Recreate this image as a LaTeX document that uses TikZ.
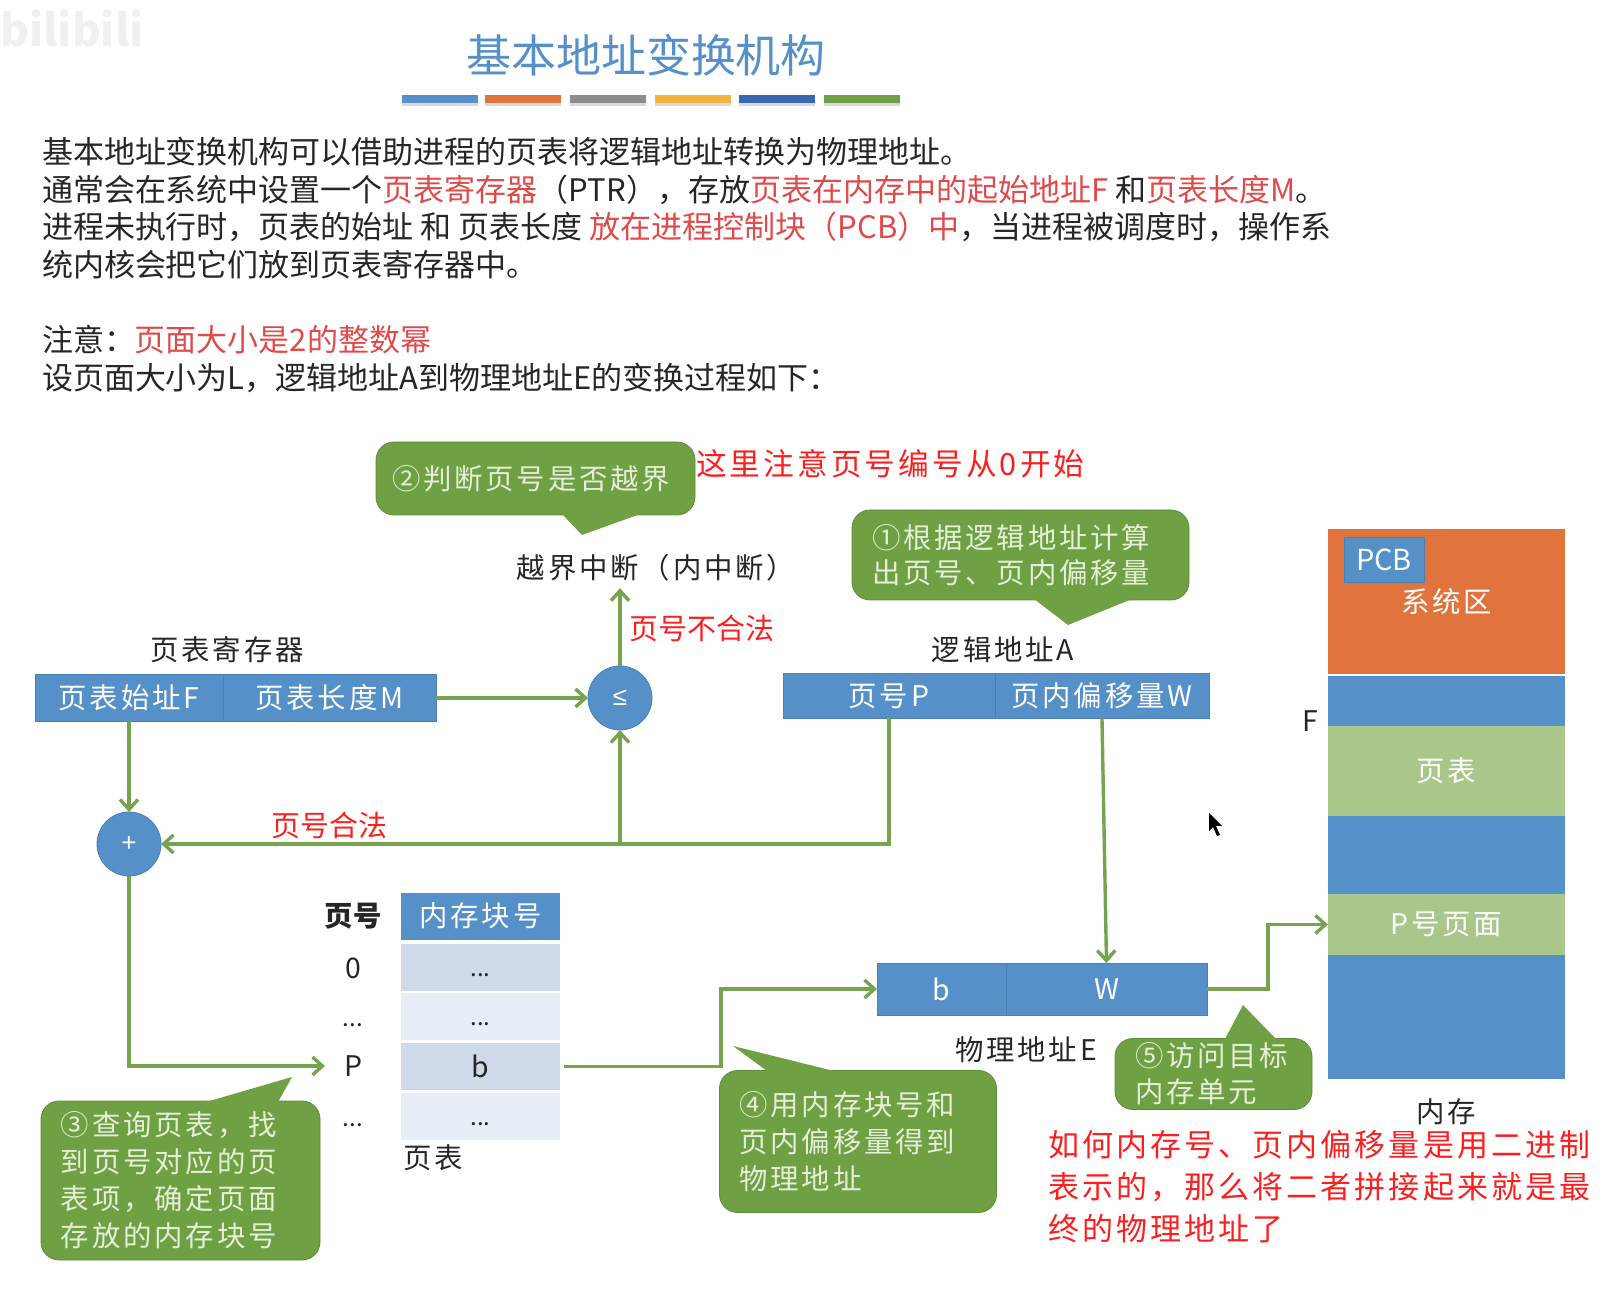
\documentclass[tikz,border=0pt]{standalone}
\usepackage{fontspec}
\usepackage{xcolor}
\usepackage{tikz}
\usetikzlibrary{positioning, arrows.meta, shadows}

\setmainfont{Noto Sans CJK SC}
\newfontfamily\labelfont[LetterSpace=10]{Noto Sans CJK SC}
\newfontfamily\notefont[LetterSpace=10]{Noto Sans CJK SC}
\newfontfamily\opfont{Liberation Sans}

\definecolor{cellblue}{HTML}{5590C8}
\definecolor{edgeblue}{HTML}{4A80B4}
\definecolor{flowgreen}{HTML}{76A34E}
\definecolor{tipgreen}{HTML}{70A044}
\definecolor{tipedge}{HTML}{5F8C3A}
\definecolor{tiptext}{HTML}{E4EFD8}
\definecolor{softgreen}{HTML}{A9C78A}
\definecolor{sysorange}{HTML}{E0743C}
\definecolor{textred}{HTML}{DF4A4A}
\definecolor{notered}{HTML}{FA2020}
\definecolor{rowdark}{HTML}{CFDBEB}
\definecolor{rowlight}{HTML}{E8EEF6}
\definecolor{baryellow}{HTML}{F2B33D}
\definecolor{bardeep}{HTML}{3A68B0}

\begin{document}
\begin{tikzpicture}[
    x=0.5pt, y=-0.5pt,
    every node/.style={outer sep=0pt},
    plain/.style={font=\labelfont\fontsize{14.2}{18.5}\selectfont, text=black!85},
    rednote/.style={font=\notefont\fontsize{15.5}{21.2}\selectfont, text=notered, align=left},
    shortnote/.style={font=\fontsize{14.5}{18}\selectfont, text=notered},
    cell/.style={
        rectangle,
        fill=cellblue,
        draw=edgeblue,
        inner sep=0pt,
        minimum height=23.5pt,
        text=white,
        font=\labelfont\fontsize{14.2}{18.5}\selectfont
    },
    memcell/.style={cell, minimum width=118.5pt, draw=none},
    rowcell/.style={cell, draw=none, minimum width=79.5pt, text=black!85},
    rowlabel/.style={plain, minimum width=28pt, inner sep=0pt},
    rowdots/.style={font=\fontsize{12}{14}\selectfont},
    opnode/.style={circle, fill=cellblue, draw=edgeblue, minimum size=32pt, inner sep=0pt, text=white, font=\opfont\fontsize{13}{15}\selectfont},
    tip/.style={
        rectangle,
        rounded corners=9pt,
        fill=tipgreen,
        draw=tipedge,
        inner xsep=10pt,
        inner ysep=0pt,
        align=left,
        text=tiptext,
        font=\labelfont\fontsize{14.2}{18.5}\selectfont
    },
    tiptail/.style={fill=tipgreen},
    bar/.style={rectangle, minimum width=38pt, minimum height=4pt, inner sep=0pt, drop shadow={shadow xshift=0pt, shadow yshift=-1.5pt, opacity=0.3}},
    flow/.style={draw=flowgreen, line width=1.7pt, -{Straight Barb[length=5pt,width=9pt]}}
]
\useasboundingbox (0,0) rectangle (1614,1294);

% title and text
\node[text=black!6, font=\bfseries\fontsize{22}{24}\selectfont] (mark) at (72,29) {bilibili};
\node[text=cellblue, font=\fontsize{22.5}{26}\selectfont] (title) at (646,55) {基本地址变换机构};
\node[bar, fill=cellblue] (bar1) at (440,99) {};
\node[bar, fill=sysorange] (bar2) at (523,99) {};
\node[bar, fill=black!45] (bar3) at (608,99) {};
\node[bar, fill=baryellow] (bar4) at (693,99) {};
\node[bar, fill=bardeep] (bar5) at (776.5,99) {};
\node[bar, fill=tipgreen] (bar6) at (861.5,99) {};

\node[anchor=north west, inner sep=0pt, align=left, text=black!85, font=\fontsize{15.5}{18.85}\selectfont] (intro) at (42,137) {
基本地址变换机构可以借助进程的页表将逻辑地址转换为物理地址。\\
通常会在系统中设置一个\textcolor{textred}{页表寄存器}（PTR），存放\textcolor{textred}{页表在内存中的起始地址F} 和\textcolor{textred}{页表长度M}。\\
进程未执行时，页表的始址 和 页表长度 \textcolor{textred}{放在进程控制块（PCB）中}，当进程被调度时，操作系\\
统内核会把它们放到页表寄存器中。\\
\mbox{}\\
注意：\textcolor{textred}{页面大小是2的整数幂}\\
设页面大小为L，逻辑地址A到物理地址E的变换过程如下：};

% registers and check
\node[plain] (reglabel) at (227,650) {页表寄存器};
\node[cell, minimum width=94pt] (regf) at (129,698) {页表始址F};
\node[cell, minimum width=106.5pt, right=0pt of regf] (regm) {页表长度M};
\node[opnode] (cmp) at (620,698) {≤};
\node[plain] (fault) at (656,568) {越界中断（内中断）};
\node[shortnote] (badno) at (702,628) {页号不合法};
\node[opnode] (plus) at (129,844) {+};
\node[shortnote] (okno) at (329,825) {页号合法};

% logical address
\node[plain] (lalabel) at (1003,650) {逻辑地址A};
\node[cell, minimum width=106pt, minimum height=22.5pt] (pno) at (889,696) {页号P};
\node[cell, minimum width=107pt, minimum height=22.5pt, right=0pt of pno] (poff) {页内偏移量W};

% page table
\node[rowlabel, font=\bfseries\fontsize{14.2}{18.5}\selectfont] (lbhead) at (353,916) {页号};
\node[rowlabel] (lb0) at (353,968) {0};
\node[rowlabel, rowdots] (lb1) at (353,1017) {\vphantom{b}...};
\node[rowlabel] (lbp) at (353,1066) {P};
\node[rowlabel, rowdots] (lb3) at (353,1117) {\vphantom{b}...};
\node[rowcell, fill=cellblue, text=white] (tbhead) at (480.5,916) {内存块号};
\node[rowcell, rowdots, fill=rowdark] (tb0) at (480.5,967.5) {\vphantom{b}...};
\node[rowcell, rowdots, fill=rowlight] (tb1) at (480.5,1016.5) {\vphantom{b}...};
\node[rowcell, fill=rowdark] (tbp) at (480.5,1066.5) {b};
\node[rowcell, rowdots, fill=rowlight] (tb3) at (480.5,1116) {\vphantom{b}...};
\node[plain] (tblabel) at (433,1158) {页表};

% physical address
\node[cell, minimum width=64.5pt, minimum height=26pt] (phyb) at (941.5,989) {b};
\node[cell, minimum width=100.5pt, minimum height=26pt, right=0pt of phyb] (phyw) {W};
\node[plain] (palabel) at (1026,1050) {物理地址E};

% memory
\node[memcell, fill=sysorange, minimum height=72.5pt] (memsys) at (1446.5,601.5) {系统区};
\node[memcell, minimum height=201.5pt] (memuser) at (1446.5,877.5) {};
\node[memcell, fill=softgreen, minimum height=45pt] (mempt) at (1446.5,771) {页表};
\node[memcell, fill=softgreen, minimum height=30.5pt] (mempage) at (1446.5,924.5) {P号页面};
\node[cell, minimum width=40pt, minimum height=22.5pt, font=\fontsize{14.5}{18}\selectfont] (pcb) at (1384,559.5) {PCB};
\node[plain] (flabel) at (1310,721) {F};
\node[plain] (memlabel) at (1446,1112) {内存};

% connectors
\draw[flow] (regm.east) -- (cmp.west);
\draw[flow] (cmp.north) -- (fault.south -| cmp.north);
\draw[flow] (regf.south) -- (plus.north);
\draw[flow] (pno.south) |- (plus.east);
\draw[flow] (cmp.south |- plus.east) -- (cmp.south);
\draw[flow] (plus.south) |- (lbp.west);
\draw[flow] (poff.south) -- (phyw.north);
\coordinate (tbbend) at (721,989);
\draw[flow, shorten <=2pt] (tbp.east) -- (tbbend |- tbp.east) -- (tbbend) -- (phyb.west);
\coordinate (pwbend) at (1268,989);
\draw[flow] (phyw.east) -- (pwbend) -- (pwbend |- mempage.west) -- (mempage.west);

% callouts
\node[tip, inner xsep=8pt, text width=143.5pt, minimum height=36.5pt] (tip2) at (535.5,478.5) {②判断页号是否越界};
\fill[tiptail] (561,513) -- (582,535) -- (643,513) -- cycle;
\node[tip, text width=148.5pt, minimum height=45pt] (tip1) at (1020.5,555) {①根据逻辑地址计算\\[-1pt]出页号、页内偏移量};
\fill[tiptail] (1034,599) -- (1068,625) -- (1132,599) -- cycle;
\node[tip, text width=119.5pt, minimum height=79.5pt] (tip3) at (180.5,1180.5) {③查询页表，找\\到页号对应的页\\表项，确定页面\\存放的内存块号};
\fill[tiptail] (206,1102) -- (292,1077) -- (278,1102) -- cycle;
\node[tip, text width=118.5pt, minimum height=71pt] (tip4) at (858,1141.5) {④用内存块号和\\页内偏移量得到\\物理地址};
\fill[tiptail] (733,1046) -- (767,1071) -- (834,1071) -- cycle;
\node[tip, text width=78.5pt, minimum height=35.5pt] (tip5) at (1213.5,1074) {⑤访问目标\\[-0.5pt]内存单元};
\fill[tiptail] (1243,1005) -- (1225,1039) -- (1276,1039) -- cycle;

% red notes
\node[rednote, anchor=west, inner sep=0pt, font=\notefont\fontsize{15.35}{21}\selectfont] (note0) at (696,464) {这里注意页号编号从0开始};
\node[rednote, anchor=north west, inner sep=0pt] (note1) at (1048,1130) {如何内存号、页内偏移量是用二进制\\表示的，那么将二者拼接起来就是最\\终的物理地址了};

% pointer
\fill[black] (1209,813) -- (1209,831) -- (1213,827) -- (1217,836) -- (1220,835) -- (1216,826) -- (1222,826) -- cycle;

\end{tikzpicture}
\end{document}
